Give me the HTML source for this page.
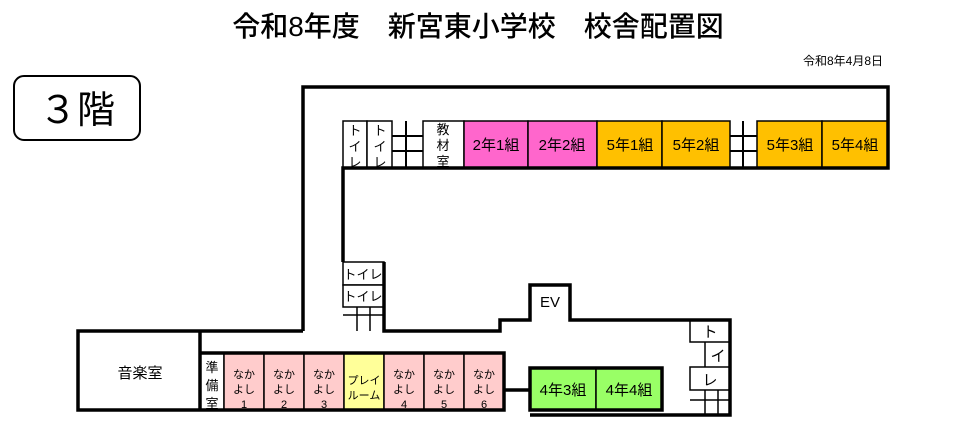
<html><head><style>body{margin:0;background:#fff}svg{font-family:"Liberation Sans","Noto Sans CJK JP",sans-serif}</style></head><body>
<svg width="957" height="441" viewBox="0 0 957 441" xmlns="http://www.w3.org/2000/svg">
<text x="478" y="36" font-size="28" text-anchor="middle" font-weight="500">令和8年度　新宮東小学校　校舎配置図</text>
<text x="843" y="65" font-size="12" text-anchor="middle">令和8年4月8日</text>
<rect x="14" y="76" width="126" height="64" rx="10" fill="#fff" stroke="#000" stroke-width="2"/>
<text x="77" y="123" font-size="38" text-anchor="middle">３階</text>
<g stroke="#000" stroke-width="1.5">
<rect x="343" y="121" width="24" height="47" fill="#fff"/>
<rect x="367" y="121" width="25" height="47" fill="#fff"/>
<rect x="423" y="121" width="41" height="47" fill="#fff"/>
<rect x="464" y="121" width="64" height="47" fill="#ff66cc"/>
<rect x="528" y="121" width="69" height="47" fill="#ff66cc"/>
<rect x="597" y="121" width="65" height="47" fill="#ffc000"/>
<rect x="662" y="121" width="68" height="47" fill="#ffc000"/>
<rect x="757" y="121" width="65" height="47" fill="#ffc000"/>
<rect x="822" y="121" width="66" height="47" fill="#ffc000"/>
<rect x="343" y="262" width="41" height="23" fill="#fff"/>
<rect x="343" y="285" width="41" height="22" fill="#fff"/>
<rect x="200" y="353" width="24" height="57" fill="#fff"/>
<rect x="224" y="353" width="40" height="57" fill="#ffcccc"/>
<rect x="264" y="353" width="40" height="57" fill="#ffcccc"/>
<rect x="304" y="353" width="40" height="57" fill="#ffcccc"/>
<rect x="344" y="353" width="40" height="57" fill="#ffff99"/>
<rect x="384" y="353" width="40" height="57" fill="#ffcccc"/>
<rect x="424" y="353" width="40" height="57" fill="#ffcccc"/>
<rect x="464" y="353" width="40" height="57" fill="#ffcccc"/>
<rect x="530" y="368" width="66" height="42" fill="#99ff66"/>
<rect x="596" y="368" width="66" height="42" fill="#99ff66"/>
<rect x="690" y="320" width="40" height="22" fill="#fff"/>
<rect x="690" y="367" width="40" height="23" fill="#fff"/>
<path d="M392 136H423M392 151H423M406 121V168" fill="none" stroke-width="2"/>
<path d="M730 136H757M730 151H757M743 121V168" fill="none" stroke-width="2"/>
<path d="M343 315H384M357 307V331M370 307V331" fill="none"/>
<path d="M690 400H730M705 390V415M718 390V415M705 342V367" fill="none"/>
</g>
<g stroke="#000" stroke-width="3.5" fill="none">
<path d="M303 331V87H888V168H343V262"/>
<path d="M384 262V331H500V320H530V285H570V320H730V415H530"/>
<path d="M303 331H78V410H504V353H200"/>
<path d="M200 331V410M504 390H530"/>
<rect x="530" y="368" width="132" height="42"/>
</g>
<g font-size="15" text-anchor="middle">
<text x="496" y="150">2年1組</text><text x="562" y="150">2年2組</text>
<text x="630" y="150">5年1組</text><text x="696" y="150">5年2組</text>
<text x="790" y="150">5年3組</text><text x="855" y="150">5年4組</text>
<text x="563" y="395">4年3組</text><text x="629" y="395">4年4組</text>
<text x="550" y="307">EV</text>
<text x="140" y="378">音楽室</text>
</g>
<g font-size="13" text-anchor="middle">
<text x="355" y="135">ト</text><text x="355" y="151">イ</text><text x="355" y="167">レ</text>
<text x="380" y="135">ト</text><text x="380" y="151">イ</text><text x="380" y="167">レ</text>
<text x="443" y="134">教</text><text x="443" y="150">材</text><text x="443" y="166">室</text>
<text x="363" y="279">トイレ</text><text x="363" y="301">トイレ</text>
<text x="710" y="337" font-size="15">ト</text><text x="718" y="361" font-size="15">イ</text><text x="710" y="385" font-size="15">レ</text>
<text x="212" y="372">準</text><text x="212" y="390">備</text><text x="212" y="408">室</text>
<text x="364" y="384" font-size="11">プレイ</text><text x="364" y="399" font-size="11">ルーム</text>
</g>
<g font-size="11" text-anchor="middle">
<text x="244" y="378">なか</text><text x="244" y="393">よし</text><text x="244" y="408">1</text>
<text x="284" y="378">なか</text><text x="284" y="393">よし</text><text x="284" y="408">2</text>
<text x="324" y="378">なか</text><text x="324" y="393">よし</text><text x="324" y="408">3</text>
<text x="404" y="378">なか</text><text x="404" y="393">よし</text><text x="404" y="408">4</text>
<text x="444" y="378">なか</text><text x="444" y="393">よし</text><text x="444" y="408">5</text>
<text x="484" y="378">なか</text><text x="484" y="393">よし</text><text x="484" y="408">6</text>
</g>
</svg></body></html>
